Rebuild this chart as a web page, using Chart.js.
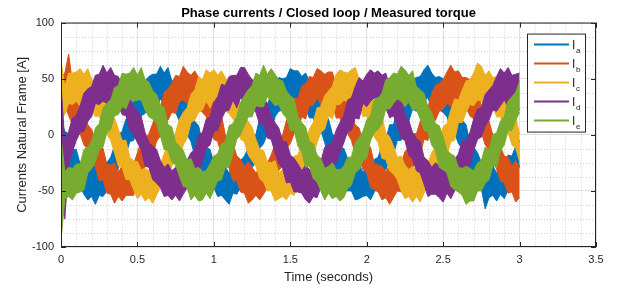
<!DOCTYPE html>
<html>
<head>
<meta charset="utf-8">
<script src="https://cdn.jsdelivr.net/npm/chart.js@4"></script>
<style>
  html, body { margin: 0; padding: 0; background: #fff; }
  canvas { display: block; }
</style>
</head>
<body>
<canvas id="phaseChart" width="619" height="291"></canvas>
<script>
// sample instants [s]
const time = [0,0.025,0.05,0.075,0.1,0.125,0.15,0.175,0.2,0.225,
  0.25,0.275,0.3,0.325,0.35,0.375,0.4,0.425,0.45,0.475,
  0.5,0.525,0.55,0.575,0.6,0.625,0.65,0.675,0.7,0.725,
  0.75,0.775,0.8,0.825,0.85,0.875,0.9,0.925,0.95,0.975,
  1,1.025,1.05,1.075,1.1,1.125,1.15,1.175,1.2,1.225,
  1.25,1.275,1.3,1.325,1.35,1.375,1.4,1.425,1.45,1.475,
  1.5,1.525,1.55,1.575,1.6,1.625,1.65,1.675,1.7,1.725,
  1.75,1.775,1.8,1.825,1.85,1.875,1.9,1.925,1.95,1.975,
  2,2.025,2.05,2.075,2.1,2.125,2.15,2.175,2.2,2.225,
  2.25,2.275,2.3,2.325,2.35,2.375,2.4,2.425,2.45,2.475,
  2.5,2.525,2.55,2.575,2.6,2.625,2.65,2.675,2.7,2.725,
  2.75,2.775,2.8,2.825,2.85,2.875,2.9,2.925,2.95,2.975,
  3];

// upper / lower edge of each noisy current band [A]
const iaHigh = [13,3,1,-13,-13,-26,-26,-26,-31,-25,
  -30,-25,-25,-20,-10,0,3,14,17,32,
  33,37,48,52,54,54,61,55,60,48,
  49,40,32,29,18,12,8,-7,-11,-13,
  -25,-24,-30,-29,-34,-28,-21,-23,-19,-12,
  -1,0,15,20,27,36,38,51,50,51,
  59,57,57,52,55,48,39,40,24,19,
  14,1,-3,-12,-12,-21,-30,-29,-27,-33,
  -30,-24,-22,-20,-9,-4,9,9,23,26,
  35,37,49,51,52,58,62,55,51,52,
  50,40,32,30,18,13,9,-7,-11,-16,
  -25,-23,-30,-28,-34,-27,-27,-18,-19,-10,
  -5];
const iaLow = [-13,-25,-36,-36,-44,-46,-53,-58,-55,-62,
  -54,-55,-50,-40,-41,-30,-21,-18,-6,-5,
  6,17,19,25,30,26,32,27,23,28,
  20,12,10,0,-6,-19,-20,-33,-37,-49,
  -47,-55,-54,-58,-62,-52,-53,-47,-47,-40,
  -29,-25,-12,-8,1,2,16,21,22,24,
  33,29,30,30,24,15,15,5,4,-7,
  -19,-21,-32,-36,-49,-50,-50,-58,-57,-55,
  -54,-58,-51,-47,-34,-31,-23,-18,-5,-5,
  9,12,23,21,27,30,33,25,29,22,
  20,16,6,2,-8,-12,-27,-30,-35,-46,
  -48,-66,-56,-54,-59,-53,-57,-49,-42,-40,
  -27];

const ibHigh = [52,55,72,46,31,30,19,9,5,-5,
  -10,-12,-26,-27,-25,-33,-28,-30,-25,-26,
  -16,-5,-4,1,10,22,24,38,41,46,
  53,52,61,56,53,57,51,47,38,38,
  29,18,17,0,-4,-8,-19,-22,-28,-24,
  -29,-34,-29,-23,-25,-18,-8,-3,0,13,
  19,33,32,44,45,52,51,59,57,54,
  56,56,45,37,35,31,19,9,6,-5,
  -9,-11,-26,-27,-28,-33,-27,-30,-24,-26,
  -15,-11,1,1,12,18,24,37,44,46,
  49,56,62,56,57,51,51,49,38,39,
  26,21,12,0,0,-11,-19,-20,-28,-23,
  -29];
const ibLow = [24,26,17,9,11,1,-9,-13,-24,-29,
  -41,-40,-52,-53,-61,-55,-59,-54,-54,-54,
  -40,-37,-28,-27,-18,-6,-1,11,13,20,
  19,30,31,28,26,31,23,20,16,7,
  -4,-6,-18,-20,-30,-41,-41,-51,-52,-61,
  -58,-54,-58,-53,-47,-42,-42,-32,-27,-12,
  -8,1,5,16,14,26,26,33,27,29,
  28,27,15,15,5,1,-5,-17,-22,-31,
  -34,-47,-49,-51,-58,-56,-62,-56,-50,-51,
  -41,-41,-30,-22,-18,-4,-5,10,13,21,
  23,28,25,33,26,31,24,17,14,2,
  2,-9,-13,-20,-31,-41,-43,-52,-51,-60,
  -56];

const icHigh = [66,43,55,55,56,59,54,59,50,43,
  43,34,28,17,15,5,-5,-5,-20,-23,
  -24,-31,-30,-32,-24,-25,-26,-17,-7,-6,
  2,14,20,24,36,40,52,49,58,55,
  58,53,57,51,44,42,39,26,16,12,
  7,-4,-13,-14,-24,-25,-23,-34,-31,-28,
  -29,-19,-18,-8,-7,5,11,24,25,35,
  39,43,54,58,56,55,58,60,50,47,
  37,34,30,17,16,2,-2,-10,-20,-19,
  -27,-31,-28,-32,-23,-25,-26,-16,-11,-6,
  7,10,22,32,31,40,48,49,55,64,
  61,53,57,51,52,38,36,26,20,16,
  0];
const icLow = [15,18,28,27,30,25,32,29,22,16,
  17,6,1,-5,-16,-28,-29,-40,-40,-49,
  -57,-53,-59,-56,-61,-54,-46,-46,-37,-28,
  -22,-20,-9,-3,11,13,20,22,30,24,
  32,28,31,21,19,14,10,-4,-6,-18,
  -23,-28,-39,-42,-50,-50,-59,-57,-55,-58,
  -52,-54,-44,-34,-32,-21,-19,-7,2,5,
  17,14,27,27,31,29,30,23,27,16,
  17,7,-2,-7,-21,-22,-32,-35,-40,-50,
  -57,-55,-60,-55,-60,-52,-46,-45,-38,-30,
  -21,-19,-6,-5,11,11,20,27,26,31,
  30,25,31,25,16,16,5,2,-9,-12,
  -24];

const idHigh = [45,-7,3,15,17,26,37,41,43,53,
  54,62,55,60,53,52,43,43,34,25,
  21,16,2,-7,-10,-13,-23,-29,-26,-32,
  -29,-23,-30,-23,-16,-13,0,2,14,16,
  29,34,45,44,52,53,53,60,60,54,
  49,48,46,33,28,16,11,6,-6,-6,
  -18,-21,-26,-32,-27,-31,-31,-24,-24,-11,
  -9,-7,4,11,17,31,33,43,51,48,
  54,58,55,57,53,55,43,43,34,33,
  17,13,2,-3,-6,-20,-23,-29,-25,-28,
  -32,-27,-30,-22,-17,-5,-6,2,14,23,
  24,36,40,44,52,59,55,60,53,54,
  55];
const idLow = [-38,-75,-26,-15,-5,2,3,12,16,28,
  27,30,28,32,22,26,18,17,4,0,
  -7,-13,-28,-29,-40,-43,-47,-55,-54,-58,
  -54,-59,-53,-47,-46,-36,-35,-24,-12,-9,
  3,4,14,21,22,31,24,33,29,29,
  23,20,9,10,-3,-4,-16,-26,-30,-43,
  -42,-51,-51,-52,-58,-61,-55,-56,-47,-48,
  -36,-27,-25,-16,-7,3,4,15,14,28,
  25,30,33,28,29,24,15,17,8,-3,
  -5,-18,-22,-32,-34,-44,-55,-53,-53,-56,
  -60,-52,-57,-50,-43,-39,-28,-28,-14,-4,
  -2,8,13,22,21,26,31,25,33,28,
  22];

const ieHigh = [-2,-33,-29,-30,-26,-26,-13,-11,-6,6,
  10,24,28,31,42,44,55,54,55,60,
  53,60,49,47,39,36,27,24,9,7,
  -7,-10,-14,-23,-21,-30,-29,-33,-32,-26,
  -19,-17,-8,-6,8,10,16,29,35,40,
  44,55,53,62,54,59,54,49,48,39,
  35,32,16,11,7,-6,-8,-18,-21,-30,
  -28,-25,-31,-31,-28,-20,-20,-7,-3,3,
  13,17,32,33,37,49,51,55,54,61,
  58,53,57,43,40,37,25,20,10,8,
  -2,-14,-17,-19,-29,-30,-28,-30,-32,-25,
  -23,-11,-13,0,2,12,16,30,34,38,
  48];
const ieLow = [-95,-57,-55,-58,-52,-51,-49,-34,-30,-24,
  -13,-11,2,5,17,18,25,23,32,30,
  31,31,22,16,14,10,-1,-13,-14,-24,
  -27,-37,-46,-47,-58,-54,-59,-58,-52,-57,
  -49,-41,-40,-29,-29,-17,-4,0,8,16,
  16,26,25,25,34,30,26,27,19,15,
  4,4,-10,-15,-29,-28,-39,-42,-50,-58,
  -52,-57,-55,-59,-56,-48,-45,-34,-31,-23,
  -21,-5,2,5,10,23,23,28,32,30,
  25,29,22,23,14,4,3,-9,-14,-29,
  -31,-34,-46,-49,-51,-54,-62,-59,-59,-50,
  -50,-43,-40,-28,-29,-14,-9,4,4,13,
  20];

const phaseNames = ['a', 'b', 'c', 'd', 'e'];
const phaseColors = ['#0072BD', '#D95319', '#EDB120', '#7E2F8E', '#77AC30'];
const xTicks = [0, 0.5, 1, 1.5, 2, 2.5, 3, 3.5];
const yTicks = [-100, -50, 0, 50, 100];

const bands = [[iaHigh, iaLow], [ibHigh, ibLow], [icHigh, icLow], [idHigh, idLow], [ieHigh, ieLow]];
const toPoints = arr => arr.map((v, i) => ({ x: time[i], y: v }));

// each phase = upper edge filled down to its lower edge; later phases sit on top
const datasets = [];
bands.forEach(([hi, lo], k) => {
    const common = {
        borderColor: phaseColors[k],
        backgroundColor: phaseColors[k],
        borderWidth: 1,
        pointRadius: 0,
        tension: 0,
        order: bands.length - k
    };
    datasets.push({ ...common, label: 'I' + phaseNames[k], data: toPoints(hi), fill: '+1' });
    datasets.push({ ...common, label: '', data: toPoints(lo), fill: false });
});

const matlabAxes = {
    id: 'matlabAxes',
    beforeDatasetsDraw(chart) {
        const { ctx, chartArea: a, scales: { x, y } } = chart;
        ctx.save();
        ctx.strokeStyle = '#cfcfcf';
        ctx.lineWidth = 1;
        ctx.setLineDash([1, 2]);
        ctx.beginPath();
        for (let n = 1; n < 35; n++) {
            if (n % 5 === 0) continue;
            const px = Math.round(x.getPixelForValue(n / 10)) + 0.5;
            ctx.moveTo(px, a.top);
            ctx.lineTo(px, a.bottom);
        }
        for (let n = 1; n < 16; n++) {
            if (n % 4 === 0) continue;
            const py = Math.round(y.getPixelForValue(-100 + n * 12.5)) + 0.5;
            ctx.moveTo(a.left, py);
            ctx.lineTo(a.right, py);
        }
        ctx.stroke();
        ctx.restore();
    },
    afterDraw(chart) {
        const { ctx, chartArea: a, scales: { x, y } } = chart;
        ctx.save();
        ctx.strokeStyle = '#262626';
        ctx.lineWidth = 1;
        ctx.strokeRect(a.left + 0.5, a.top + 0.5, a.right - a.left - 1, a.bottom - a.top - 1);
        ctx.beginPath();
        xTicks.forEach(v => {
            const px = Math.round(x.getPixelForValue(v)) + 0.5;
            ctx.moveTo(px, a.bottom); ctx.lineTo(px, a.bottom - 5);
            ctx.moveTo(px, a.top); ctx.lineTo(px, a.top + 5);
        });
        yTicks.forEach(v => {
            const py = Math.round(y.getPixelForValue(v)) + 0.5;
            ctx.moveTo(a.left, py); ctx.lineTo(a.left + 5, py);
            ctx.moveTo(a.right, py); ctx.lineTo(a.right - 5, py);
        });
        ctx.stroke();

        // legend box, top right inside the axes
        const bx = a.right - 69, by = a.top + 11;
        ctx.fillStyle = '#fff';
        ctx.fillRect(bx, by, 58, 98);
        ctx.strokeStyle = '#262626';
        ctx.strokeRect(bx + 0.5, by + 0.5, 58, 98);
        phaseNames.forEach((name, k) => {
            const ry = Math.round(by + 10 + k * 19.1) + 0.5;
            ctx.strokeStyle = phaseColors[k];
            ctx.lineWidth = 2;
            ctx.beginPath();
            ctx.moveTo(bx + 7, ry);
            ctx.lineTo(bx + 42, ry);
            ctx.stroke();
            ctx.fillStyle = '#262626';
            ctx.textBaseline = 'middle';
            ctx.textAlign = 'left';
            ctx.font = "12px 'Liberation Sans', Arial, sans-serif";
            ctx.fillText('I', bx + 45, ry + 1);
            ctx.font = "8px 'Liberation Sans', Arial, sans-serif";
            ctx.fillText(name, bx + 49, ry + 6);
        });
        ctx.restore();
    }
};

Chart.defaults.font.family = "'Liberation Sans', Arial, Helvetica, sans-serif";

new Chart(document.getElementById('phaseChart').getContext('2d'), {
    type: 'line',
    data: { datasets },
    options: {
        responsive: false,
        animation: false,
        devicePixelRatio: 1,
        layout: { padding: { left: 0, right: 23, top: 0, bottom: 0 } },
        scales: {
            x: {
                type: 'linear',
                min: 0,
                max: 3.5,
                afterBuildTicks: s => { s.ticks = xTicks.map(v => ({ value: v })); },
                afterFit: s => { s.height = 44; },
                ticks: { color: '#262626', font: { size: 11 }, padding: 6, maxRotation: 0, autoSkip: false, callback: v => String(v) },
                grid: { color: '#dfdfdf', drawTicks: false },
                border: { display: false },
                title: { display: true, text: 'Time (seconds)', color: '#262626', font: { size: 13 }, padding: { top: 0, bottom: 6 } }
            },
            y: {
                type: 'linear',
                min: -100,
                max: 100,
                afterBuildTicks: s => { s.ticks = yTicks.map(v => ({ value: v })); },
                afterFit: s => { s.width = 61; },
                ticks: { color: '#262626', font: { size: 11 }, padding: 7, callback: v => String(v) },
                grid: { color: '#dfdfdf', drawTicks: false },
                border: { display: false },
                title: { display: true, text: 'Currents Natural Frame [A]', color: '#262626', font: { size: 13 }, padding: { top: 15, bottom: 0 } }
            }
        },
        plugins: {
            title: {
                display: true,
                fullSize: false,
                text: 'Phase currents / Closed loop / Measured torque',
                color: '#000',
                font: { size: 13, weight: 'bold' },
                padding: { top: 6, bottom: 1 }
            },
            legend: { display: false },
            tooltip: { enabled: false }
        }
    },
    plugins: [matlabAxes]
});
</script>
</body>
</html>
